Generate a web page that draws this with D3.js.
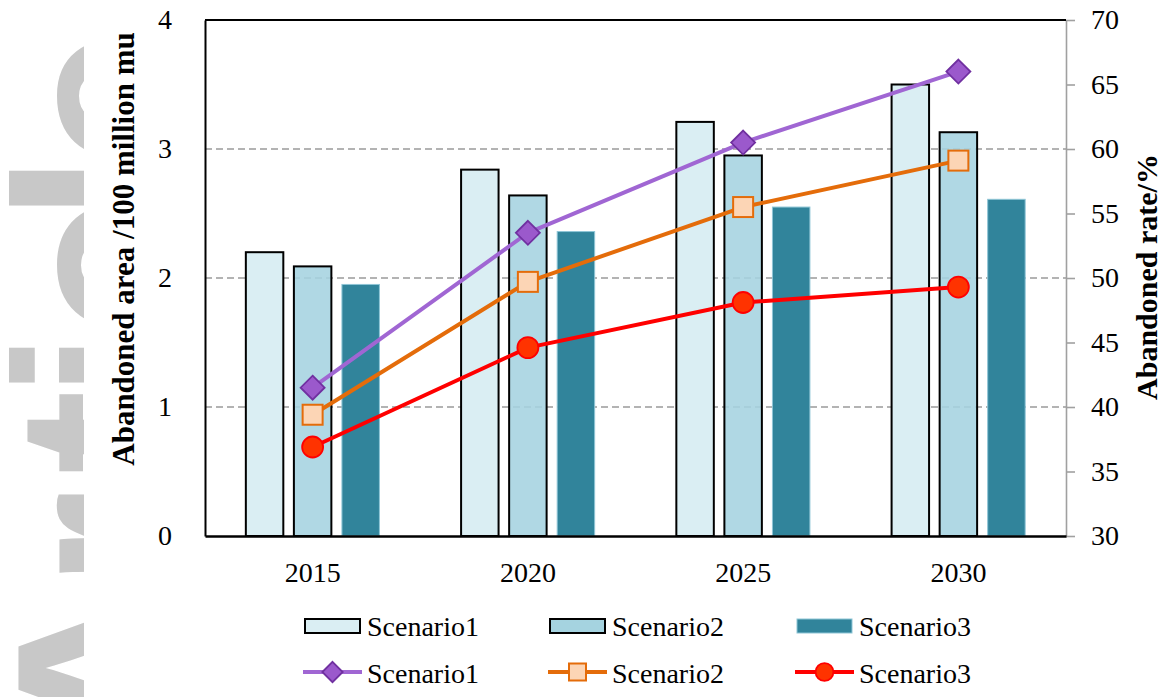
<!DOCTYPE html>
<html>
<head>
<meta charset="utf-8">
<script src="https://cdn.jsdelivr.net/npm/d3@7/dist/d3.min.js"></script>
<style>
  html, body { margin: 0; padding: 0; background: #fff; }
  svg { display: block; }
</style>
</head>
<body>
<svg id="chart" width="1168" height="697"></svg>
<script>
// ---- data ----
const years = ["2015", "2020", "2025", "2030"];
const seriesNames = ["Scenario1", "Scenario2", "Scenario3"];
const area1 = [2.20, 2.84, 3.21, 3.50];
const area2 = [2.09, 2.64, 2.95, 3.13];
const area3 = [1.95, 2.36, 2.55, 2.61];
const rate1 = [41.5, 53.5, 60.5, 66.0];
const rate2 = [39.4, 49.7, 55.5, 59.1];
const rate3 = [36.9, 44.6, 48.1, 49.3];
const leftTicks = [0, 1, 2, 3, 4];
const rightTicks = [30, 35, 40, 45, 50, 55, 60, 65, 70];
const gridTicks = [1, 2, 3];
const leftTitle = "Abandoned area /100 million mu";
const rightTitle = "Abandoned rate/%";
const watermark = ["A", "r", "t", "i", "c", "l", "e"];

// ---- styles ----
const serif = "'Liberation Serif', 'Times New Roman', serif";
const barFill = ["#DAEEF3", "#A5D3E0", "#31849B"];
const barStroke = ["#000", "#000", "#8EC5D6"];
const barStrokeW = [2, 2, 1];
const barOpacity = [1, 0.88, 1];
const lineColor = ["#A066D3", "#E46C0A", "#FF0000"];
const markFill = ["#9B59CC", "#FCD5B5", "#FF3300"];
const markStroke = ["#7030A0", "#E46C0A", "#FF0000"];

const svg = d3.select("#chart");
const M = { left: 205, right: 1066, top: 20, bottom: 536 };

// ---- watermark (behind figure, partly covered by the figure's white background) ----
const wmY = [668, 540, 432, 365, 268, 188, 98];
const wm = svg.append("g");
watermark.forEach((ch, i) => {
  wm.append("text")
    .attr("transform", `translate(194,${wmY[i]}) rotate(-90)`)
    .attr("text-anchor", "middle")
    .attr("font-family", "'Liberation Sans', Arial, sans-serif")
    .attr("font-weight", "bold")
    .attr("font-size", 254)
    .attr("fill", "#C8C8C8")
    .text(ch);
});
svg.append("rect").attr("x", 84).attr("y", 0).attr("width", 1168 - 84).attr("height", 697).attr("fill", "#fff");

// ---- scales ----
const x0 = d3.scaleBand().domain(years).range([M.left, M.right]).paddingInner(0).paddingOuter(0);
const x1 = d3.scaleBand().domain(seriesNames).range([0, x0.bandwidth()]).paddingInner(0.22).paddingOuter(0.85);
const yL = d3.scaleLinear().domain([0, 4]).range([M.bottom, M.top]);
const yR = d3.scaleLinear().domain([30, 70]).range([M.bottom, M.top]);

// ---- gridlines ----
svg.append("g").selectAll("line").data(gridTicks).join("line")
  .attr("x1", M.left).attr("x2", M.right)
  .attr("y1", d => yL(d)).attr("y2", d => yL(d))
  .attr("stroke", "#9A9A9A").attr("stroke-width", 1.4)
  .attr("stroke-dasharray", "7,4");

// ---- bars ----
const areas = [area1, area2, area3];
const barG = svg.append("g");
areas.forEach((vals, s) => {
  barG.append("g").selectAll("rect").data(vals).join("rect")
    .attr("x", (d, i) => x0(years[i]) + x1(seriesNames[s]))
    .attr("width", x1.bandwidth())
    .attr("y", d => yL(d))
    .attr("height", d => yL(0) - yL(d))
    .attr("fill", barFill[s])
    .attr("fill-opacity", barOpacity[s])
    .attr("stroke", barStroke[s])
    .attr("stroke-width", barStrokeW[s]);
});

// ---- axes ----
const axL = svg.append("g").attr("transform", `translate(${M.left},0)`)
  .call(d3.axisLeft(yL).tickValues(leftTicks).tickSize(0).tickPadding(33).tickFormat(d3.format("d")));
axL.select(".domain").attr("stroke", "#000").attr("stroke-width", 2);
axL.selectAll("text").attr("font-family", serif).attr("font-size", 28).attr("fill", "#000");

const axR = svg.append("g").attr("transform", `translate(${M.right},0)`)
  .call(d3.axisRight(yR).tickValues(rightTicks).tickSize(9).tickSizeOuter(0).tickPadding(16));
axR.select(".domain").attr("stroke", "#A0A0A0").attr("stroke-width", 1.6);
axR.selectAll(".tick line").attr("stroke", "#A0A0A0").attr("stroke-width", 1.6);
axR.selectAll("text").attr("font-family", serif).attr("font-size", 28).attr("fill", "#000");

const axB = svg.append("g").attr("transform", `translate(0,${M.bottom})`)
  .call(d3.axisBottom(x0).tickSize(0).tickPadding(26));
axB.select(".domain").attr("stroke", "#000").attr("stroke-width", 2.4);
axB.selectAll("text").attr("font-family", serif).attr("font-size", 28).attr("fill", "#000");

// top border
svg.append("line").attr("x1", M.left).attr("x2", M.right).attr("y1", M.top).attr("y2", M.top)
  .attr("stroke", "#000").attr("stroke-width", 2);

// ---- axis titles ----
svg.append("text")
  .attr("transform", `translate(134,249) rotate(-90)`)
  .attr("text-anchor", "middle")
  .attr("font-family", serif).attr("font-weight", "bold").attr("font-size", 31)
  .text(leftTitle);
svg.append("text")
  .attr("transform", `translate(1157,277) rotate(-90)`)
  .attr("text-anchor", "middle")
  .attr("font-family", serif).attr("font-weight", "bold").attr("font-size", 30)
  .text(rightTitle);

// ---- lines ----
const rates = [rate1, rate2, rate3];
const cx = (i) => x0(years[i]) + x0.bandwidth() / 2;
const line = d3.line().x((d, i) => cx(i)).y(d => yR(d));

function drawMarker(g, s, x, y, scale) {
  if (s === 0) {
    const r = 12 * scale;
    g.append("path")
      .attr("d", `M${x},${y - r}L${x + r},${y}L${x},${y + r}L${x - r},${y}Z`)
      .attr("fill", markFill[s]).attr("stroke", markStroke[s]).attr("stroke-width", 1.8);
  } else if (s === 1) {
    const h = 10 * scale;
    g.append("rect").attr("x", x - h).attr("y", y - h).attr("width", 2 * h).attr("height", 2 * h)
      .attr("fill", markFill[s]).attr("stroke", markStroke[s]).attr("stroke-width", 2);
  } else {
    g.append("circle").attr("cx", x).attr("cy", y).attr("r", 10.5 * scale)
      .attr("fill", markFill[s]).attr("stroke", markStroke[s]).attr("stroke-width", 1.8);
  }
}

const lineG = svg.append("g");
rates.forEach((vals, s) => {
  lineG.append("path").datum(vals)
    .attr("d", line)
    .attr("fill", "none")
    .attr("stroke", lineColor[s])
    .attr("stroke-width", 4)
    .attr("stroke-linejoin", "round");
});
rates.forEach((vals, s) => {
  vals.forEach((v, i) => drawMarker(lineG, s, cx(i), yR(v), 1));
});

// ---- legend ----
const legX = [305, 550, 797];
const leg = svg.append("g");
seriesNames.forEach((name, s) => {
  leg.append("rect").attr("x", legX[s]).attr("y", 619).attr("width", 55).attr("height", 14)
    .attr("fill", barFill[s]).attr("stroke", barStroke[s]).attr("stroke-width", barStrokeW[s]);
  leg.append("text").attr("x", legX[s] + 62).attr("y", 636)
    .attr("font-family", serif).attr("font-size", 28).text(name);
  leg.append("line").attr("x1", legX[s] - 2).attr("x2", legX[s] + 57).attr("y1", 672).attr("y2", 672)
    .attr("stroke", lineColor[s]).attr("stroke-width", 4);
  drawMarker(leg, s, legX[s] + 27.5, 672, 0.85);
  leg.append("text").attr("x", legX[s] + 62).attr("y", 683)
    .attr("font-family", serif).attr("font-size", 28).text(name);
});
</script>
</body>
</html>
